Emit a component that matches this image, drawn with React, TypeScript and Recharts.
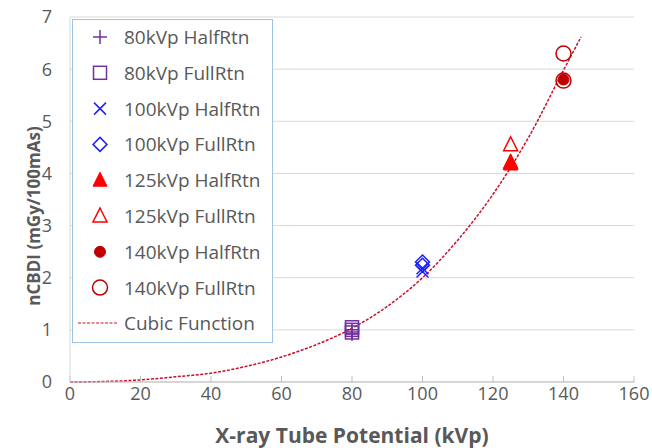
import React from 'react';
import { ComposedChart, Scatter, Line, XAxis, YAxis, CartesianGrid, Legend } from 'recharts';

// measured points (kVp, nCBDI)
const hr80 = [{ x: 80, y: 0.92 }, { x: 80, y: 0.96 }, { x: 80, y: 1.0 }];
const fr80 = [{ x: 80, y: 0.95 }, { x: 80, y: 1.0 }, { x: 80, y: 1.05 }];
const hr100 = [{ x: 100, y: 2.12 }, { x: 100, y: 2.18 }];
const fr100 = [{ x: 100, y: 2.24 }, { x: 100, y: 2.3 }];
const hr125 = [{ x: 125, y: 4.18 }, { x: 125, y: 4.22 }];
const fr125 = [{ x: 125, y: 4.2 }, { x: 125, y: 4.55 }];
const hr140 = [{ x: 140, y: 5.8 }];
const fr140 = [{ x: 140, y: 5.78 }, { x: 140, y: 6.3 }];

// fitted curve
const cubicX = [0, 10, 20, 30, 40, 50, 60, 70, 80, 90, 100, 110, 120, 130, 140, 145];
const cubicY = [0, 0.01, 0.04, 0.1, 0.17, 0.3, 0.48, 0.72, 1.03, 1.45, 2.0, 2.72, 3.6, 4.68, 5.98, 6.62];
const cubic = cubicX.map((x, i) => ({ x, y: cubicY[i] }));

const xTicks = [0, 20, 40, 60, 80, 100, 120, 140, 160];
const yTicks = [0, 1, 2, 3, 4, 5, 6, 7];

const FONT = '"Open Sans", sans-serif';
const GREY = '#595959';
const CURVE = '#C8102E';

type Kind = 'plus' | 'square' | 'cross' | 'diamond' | 'triFill' | 'tri' | 'dot' | 'circle';

function Marker({ kind, cx, cy, color }: { kind: Kind; cx: number; cy: number; color: string }) {
  const s = 7;
  switch (kind) {
    case 'plus':
      return <path d={`M${cx - s},${cy}H${cx + s}M${cx},${cy - s}V${cy + s}`} stroke={color} strokeWidth={1.5} fill="none" />;
    case 'square':
      return <rect x={cx - 6.5} y={cy - 6.5} width={13} height={13} stroke={color} strokeWidth={1.5} fill="none" />;
    case 'cross':
      return <path d={`M${cx - 6},${cy - 6}L${cx + 6},${cy + 6}M${cx + 6},${cy - 6}L${cx - 6},${cy + 6}`} stroke={color} strokeWidth={1.5} fill="none" />;
    case 'diamond':
      return <path d={`M${cx},${cy - 7}L${cx + 7},${cy}L${cx},${cy + 7}L${cx - 7},${cy}Z`} stroke={color} strokeWidth={1.5} fill="none" />;
    case 'triFill':
      return <path d={`M${cx},${cy - 8}L${cx + 7},${cy + 6}L${cx - 7},${cy + 6}Z`} stroke={color} strokeWidth={1} fill={color} />;
    case 'tri':
      return <path d={`M${cx},${cy - 8}L${cx + 7},${cy + 6}L${cx - 7},${cy + 6}Z`} stroke={color} strokeWidth={1.5} fill="none" />;
    case 'dot':
      return <circle cx={cx} cy={cy} r={5.5} fill={color} stroke={color} />;
    case 'circle':
      return <circle cx={cx} cy={cy} r={7.5} fill="none" stroke={color} strokeWidth={1.5} />;
  }
  return null;
}

const series: { name: string; data: { x: number; y: number }[]; kind: Kind; color: string }[] = [
  { name: '80kVp HalfRtn', data: hr80, kind: 'plus', color: '#7030A0' },
  { name: '80kVp FullRtn', data: fr80, kind: 'square', color: '#7030A0' },
  { name: '100kVp HalfRtn', data: hr100, kind: 'cross', color: '#1F1FFF' },
  { name: '100kVp FullRtn', data: fr100, kind: 'diamond', color: '#1F1FFF' },
  { name: '125kVp HalfRtn', data: hr125, kind: 'triFill', color: '#FF0000' },
  { name: '125kVp FullRtn', data: fr125, kind: 'tri', color: '#FF0000' },
  { name: '140kVp HalfRtn', data: hr140, kind: 'dot', color: '#C00000' },
  { name: '140kVp FullRtn', data: fr140, kind: 'circle', color: '#C00000' },
];

const renderLegend = () => (
  <svg width={201} height={324} style={{ display: 'block' }}>
    <rect x={0.5} y={0.5} width={200} height={323} fill="#fff" stroke="#9DC3E6" />
    {series.map((s, i) => {
      const cy = 18 + i * 35.8;
      return (
        <g key={s.name}>
          <Marker kind={s.kind} cx={28} cy={cy} color={s.color} />
          <text x={52} y={cy + 7} fontFamily={FONT} fontSize={19} fill={GREY}>{s.name}</text>
        </g>
      );
    })}
    <line x1={6} x2={46} y1={304} y2={304} stroke={CURVE} strokeDasharray="3 1.5" strokeWidth={1} />
    <text x={52} y={311} fontFamily={FONT} fontSize={19} fill={GREY}>Cubic Function</text>
  </svg>
);

export default function App() {
  return (
    <div style={{ position: 'absolute', left: 0, top: 0, width: 652, height: 448, background: '#fff' }}>
      <ComposedChart width={652} height={448} margin={{ top: 17, right: 18, bottom: 0, left: 0 }}>
        <CartesianGrid vertical={false} stroke="#D9D9D9" />
        <XAxis
          type="number"
          dataKey="x"
          domain={[0, 160]}
          ticks={xTicks}
          interval={0}
          height={66}
          axisLine={{ stroke: '#BFBFBF' }}
          tickLine={{ stroke: '#BFBFBF' }}
          tickSize={-6}
          tickMargin={11}
          tick={{ fontFamily: FONT, fontSize: 18, fill: GREY }}
          label={{ value: 'X-ray Tube Potential (kVp)', position: 'insideBottom', offset: 5, fontFamily: FONT, fontSize: 21, fontWeight: 700, fill: GREY }}
        />
        <YAxis
          type="number"
          dataKey="y"
          domain={[0, 7]}
          ticks={yTicks}
          interval={0}
          width={70}
          axisLine={{ stroke: '#D9D9D9' }}
          tickLine={false}
          tickMargin={12}
          tick={{ fontFamily: FONT, fontSize: 18, fill: GREY }}
          label={{
            content: () => (
              <text transform="translate(40,216) rotate(-90)" textAnchor="middle" fontFamily={FONT} fontSize={17} fontWeight={700} fill={GREY}>
                nCBDI (mGy/100mAs)
              </text>
            ),
          }}
        />
        {series.map((s) => (
          <Scatter
            key={s.name}
            name={s.name}
            data={s.data}
            isAnimationActive={false}
            shape={(p: any) => <Marker kind={s.kind} cx={p.cx} cy={p.cy} color={s.color} />}
          />
        ))}
        <Line
          data={cubic}
          dataKey="y"
          type="monotone"
          stroke={CURVE}
          strokeWidth={1.5}
          strokeDasharray="3 1.5"
          dot={false}
          activeDot={false}
          isAnimationActive={false}
          legendType="none"
        />
        <Legend
          content={renderLegend}
          layout="vertical"
          align="center"
          verticalAlign="middle"
          wrapperStyle={{ left: 72, top: 19, width: 201, height: 324 }}
        />
      </ComposedChart>
    </div>
  );
}
